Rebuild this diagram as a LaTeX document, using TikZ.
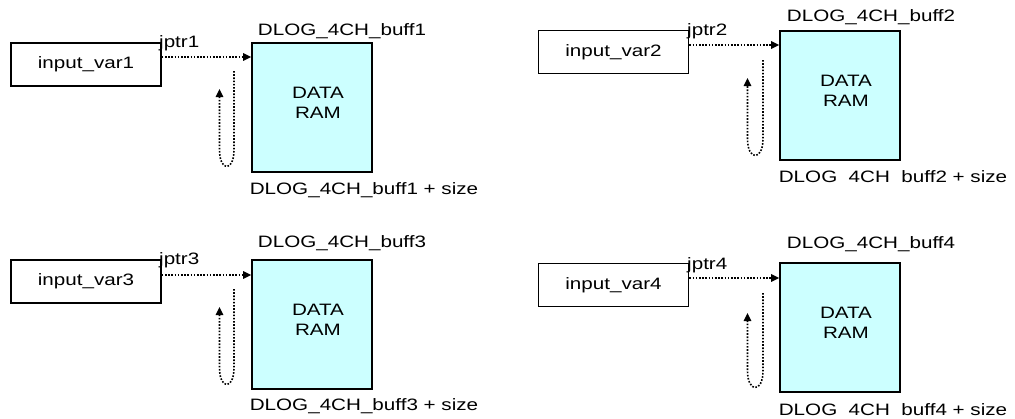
\documentclass[tikz,border=0pt]{standalone}
\usepackage{fontspec}
\setmainfont{Liberation Sans}
\usetikzlibrary{arrows.meta}
\newcommand\sx[1]{\scalebox{1.25}[1]{#1}}
\definecolor{ramfill}{HTML}{CCFFFF}
\tikzset{
  lbl/.style={font=\fontsize{16.5}{19}\selectfont, inner sep=0pt},
  inbox/.style={draw=black, line width=1.7pt, minimum width=150pt, minimum height=43pt, inner sep=0pt, font=\fontsize{16.5}{19}\selectfont},
  ram/.style={draw=black, line width=1.7pt, fill=ramfill, minimum width=120pt, minimum height=129pt, inner sep=0pt},
  ptr/.style={line width=1.6pt, dash pattern=on 1.6pt off 1.6pt, -{Triangle[length=8pt,width=7.5pt]}},
}
\begin{document}
\begin{tikzpicture}[x=1pt,y=-1pt]
\useasboundingbox (0,0) rectangle (1015,418);
% ---------- quadrant 1
\node[inbox] (in1) at (86,64.5) {\sx{input\_var1}};
\node[ram] (r1) at (312,107.5) {};
\node[lbl, align=center] (t1) at (318,103) {\sx{DATA}\\[1pt]\sx{RAM}};
\node[lbl, anchor=base west] (j1) at (159,47) {\sx{jptr1}};
\node[lbl] (top1) at (342,31) {\sx{DLOG\_4CH\_buff1}};
\node[lbl] (bot1) at (364,190) {\sx{DLOG\_4CH\_buff1 + size}};
\coordinate (a1) at (in1.east |- 0,57);
\draw[ptr] (a1) -- (a1 -| r1.west);
\coordinate (l1s) at (234,71);
\coordinate (l1e) at (219.5,89);
\draw[ptr] (l1s) -- (234,150) .. controls (234,172) and (219.5,172) .. (219.5,150) -- (l1e);
% ---------- quadrant 2
\node[inbox] (in2) at (613.5,52) {\sx{input\_var2}};
\node[ram] (r2) at (840,95.5) {};
\node[lbl, align=center] (t2) at (846,91) {\sx{DATA}\\[1pt]\sx{RAM}};
\node[lbl, anchor=base west] (j2) at (687,35) {\sx{jptr2}};
\node[lbl] (top2) at (871,17) {\sx{DLOG\_4CH\_buff2}};
\node[lbl] (bot2) at (893,177) {\sx{DLOG\ \ 4CH\ \ buff2 + size}};
\coordinate (a2) at (in2.east |- 0,45);
\draw[ptr] (a2) -- (a2 -| r2.west);
\coordinate (l2s) at (763,60);
\coordinate (l2e) at (747.5,78);
\draw[ptr] (l2s) -- (763,139) .. controls (763,161) and (747.5,161) .. (747.5,139) -- (l2e);
% ---------- quadrant 3
\node[inbox] (in3) at (86,281.5) {\sx{input\_var3}};
\node[ram] (r3) at (312,324.5) {};
\node[lbl, align=center] (t3) at (318,320) {\sx{DATA}\\[1pt]\sx{RAM}};
\node[lbl, anchor=base west] (j3) at (159,264) {\sx{jptr3}};
\node[lbl] (top3) at (342,243) {\sx{DLOG\_4CH\_buff3}};
\node[lbl] (bot3) at (364,406) {\sx{DLOG\_4CH\_buff3 + size}};
\coordinate (a3) at (in3.east |- 0,275);
\draw[ptr] (a3) -- (a3 -| r3.west);
\coordinate (l3s) at (234,289);
\coordinate (l3e) at (219.5,307);
\draw[ptr] (l3s) -- (234,368) .. controls (234,390) and (219.5,390) .. (219.5,368) -- (l3e);
% ---------- quadrant 4
\node[inbox] (in4) at (613.5,285) {\sx{input\_var4}};
\node[ram] (r4) at (840,327.5) {};
\node[lbl, align=center] (t4) at (846,323) {\sx{DATA}\\[1pt]\sx{RAM}};
\node[lbl, anchor=base west] (j4) at (687,269) {\sx{jptr4}};
\node[lbl] (top4) at (871,244) {\sx{DLOG\_4CH\_buff4}};
\node[lbl] (bot4) at (893,410) {\sx{DLOG\ \ 4CH\ \ buff4 + size}};
\coordinate (a4) at (in4.east |- 0,278);
\draw[ptr] (a4) -- (a4 -| r4.west);
\coordinate (l4s) at (763,293);
\coordinate (l4e) at (747.5,313);
\draw[ptr] (l4s) -- (763,371) .. controls (763,393) and (747.5,393) .. (747.5,371) -- (l4e);
\end{tikzpicture}
\end{document}
